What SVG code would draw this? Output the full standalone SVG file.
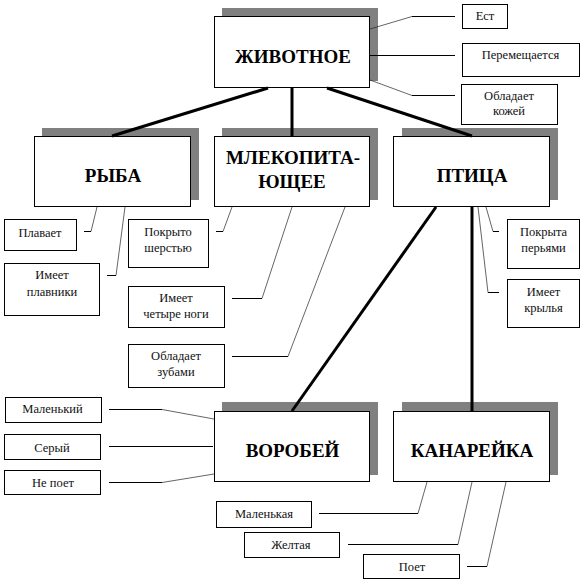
<svg xmlns="http://www.w3.org/2000/svg" width="585" height="585" viewBox="0 0 585 585">
<style>
.sh{fill:#808080;stroke:none}
.bx{fill:#fff;stroke:#000;stroke-width:1}
.t{font-family:"Liberation Serif","DejaVu Serif",serif;font-weight:bold;font-size:19px;fill:#000;text-anchor:middle}
.l{font-family:"Liberation Serif","DejaVu Serif",serif;font-size:12.5px;fill:#111;text-anchor:middle}
.thick{fill:none;stroke:#000;stroke-width:3}
.thin{fill:none;stroke:#000;stroke-width:1}
.dl{fill:none;stroke:#222;stroke-width:0.7}
</style>
<rect width="585" height="585" fill="#fff"/>
<g id="animal"><rect class="sh" x="222" y="8" width="156" height="73"/><rect class="bx" x="214.5" y="16.5" width="155" height="71"/><text class="t" x="293" y="63">ЖИВОТНОЕ</text></g>
<g id="fish"><rect class="sh" x="42" y="128" width="157" height="72"/><rect class="bx" x="34.5" y="136.5" width="156" height="70"/><text class="t" x="113" y="182">РЫБА</text></g>
<g id="mammal"><rect class="sh" x="222" y="128" width="156" height="72"/><rect class="bx" x="214.5" y="136.5" width="155" height="70"/><text class="t" x="293" y="164">МЛЕКОПИТА-</text><text class="t" x="292" y="188">ЮЩЕЕ</text></g>
<g id="bird"><rect class="sh" x="402" y="128" width="156" height="72"/><rect class="bx" x="393.5" y="136.5" width="156" height="70"/><text class="t" x="472" y="182">ПТИЦА</text></g>
<g id="sparrow"><rect class="sh" x="222" y="402" width="156" height="73"/><rect class="bx" x="214.5" y="411.5" width="155" height="70"/><text class="t" x="292.5" y="457">ВОРОБЕЙ</text></g>
<g id="canary"><rect class="sh" x="402" y="402" width="156" height="73"/><rect class="bx" x="393.5" y="411.5" width="156" height="70"/><text class="t" x="472" y="457">КАНАРЕЙКА</text></g>
<g id="eats"><rect class="bx" x="462.5" y="4.5" width="45" height="24"/><text class="l" x="485" y="20">Ест</text></g>
<g id="moves"><rect class="bx" x="462.5" y="43.5" width="117" height="33"/><text class="l" x="520.5" y="59">Перемещается</text></g>
<g id="skin"><rect class="bx" x="461.5" y="84.5" width="96" height="40"/><text class="l" x="509" y="100">Обладает</text><text class="l" x="509" y="115">кожей</text></g>
<g id="swims"><rect class="bx" x="4.5" y="219.5" width="72" height="31"/><text class="l" x="40" y="237">Плавает</text></g>
<g id="fins"><rect class="bx" x="4.5" y="263.5" width="95" height="52"/><text class="l" x="52" y="279">Имеет</text><text class="l" x="52" y="296">плавники</text></g>
<g id="fur"><rect class="bx" x="128.5" y="219.5" width="80" height="48"/><text class="l" x="168" y="236">Покрыто</text><text class="l" x="168" y="252">шерстью</text></g>
<g id="legs"><rect class="bx" x="128.5" y="286.5" width="96" height="41"/><text class="l" x="176" y="302">Имеет</text><text class="l" x="176" y="318">четыре ноги</text></g>
<g id="teeth"><rect class="bx" x="128.5" y="344.5" width="96" height="43"/><text class="l" x="176" y="360">Обладает</text><text class="l" x="176" y="376">зубами</text></g>
<g id="feathers"><rect class="bx" x="507.5" y="219.5" width="72" height="49"/><text class="l" x="543.5" y="236">Покрыта</text><text class="l" x="543.5" y="252">перьями</text></g>
<g id="wings"><rect class="bx" x="507.5" y="279.5" width="72" height="48"/><text class="l" x="543.5" y="296">Имеет</text><text class="l" x="543.5" y="312">крылья</text></g>
<g id="small-m"><rect class="bx" x="5.5" y="397.5" width="96" height="25"/><text class="l" x="52.5" y="413">Маленький</text></g>
<g id="grey"><rect class="bx" x="4.5" y="434.5" width="96" height="25"/><text class="l" x="52" y="452">Серый</text></g>
<g id="nosing"><rect class="bx" x="4.5" y="470.5" width="96" height="24"/><text class="l" x="53" y="487">Не поет</text></g>
<g id="small-f"><rect class="bx" x="216.5" y="501.5" width="95" height="26"/><text class="l" x="264" y="518">Маленькая</text></g>
<g id="yellow"><rect class="bx" x="244.5" y="532.5" width="95" height="25"/><text class="l" x="291" y="549">Желтая</text></g>
<g id="sings"><rect class="bx" x="363.5" y="554.5" width="96" height="24"/><text class="l" x="412" y="571">Поет</text></g>
<g id="connectors">
<line class="thick" x1="268" y1="88" x2="112" y2="136"/>
<line class="thick" x1="292" y1="88" x2="292" y2="136"/>
<line class="thick" x1="327" y1="88" x2="472" y2="136"/>
<line class="thick" x1="436" y1="207" x2="292" y2="411"/>
<line class="thick" x1="472" y1="207" x2="472" y2="411"/>
<polyline class="dl" points="370,29 412,16.5"/><line class="thin" x1="412" y1="16.5" x2="455" y2="16.5"/>
<line class="thin" x1="370" y1="55.5" x2="455" y2="55.5"/>
<polyline class="dl" points="370,80 412,95.5"/><line class="thin" x1="412" y1="95.5" x2="455" y2="95.5"/>
<polyline class="dl" points="97,207 91,231.5"/><line class="thin" x1="84" y1="231.5" x2="91" y2="231.5"/>
<polyline class="dl" points="125,207 116,275.5"/><line class="thin" x1="107" y1="275.5" x2="116" y2="275.5"/>
<polyline class="dl" points="232,207 223,231.5"/><line class="thin" x1="216" y1="231.5" x2="223" y2="231.5"/>
<polyline class="dl" points="292,207 262,298.5"/><line class="thin" x1="232" y1="298.5" x2="262" y2="298.5"/>
<polyline class="dl" points="345,207 288,356.5"/><line class="thin" x1="232" y1="356.5" x2="288" y2="356.5"/>
<polyline class="dl" points="486,207 493,231.5"/><line class="thin" x1="493" y1="231.5" x2="499" y2="231.5"/>
<polyline class="dl" points="478,207 488,292.5"/><line class="thin" x1="488" y1="292.5" x2="499" y2="292.5"/>
<line class="thin" x1="109" y1="409.5" x2="162" y2="409.5"/><polyline class="dl" points="162,409.5 214,419"/>
<line class="thin" x1="109" y1="446.5" x2="213" y2="446.5"/>
<line class="thin" x1="109" y1="482.5" x2="162" y2="482.5"/><polyline class="dl" points="162,482.5 214,474"/>
<line class="thin" x1="319" y1="513.5" x2="418" y2="513.5"/><polyline class="dl" points="418,513.5 427,482"/>
<line class="thin" x1="348" y1="544.5" x2="458" y2="544.5"/><polyline class="dl" points="458,544.5 472,482"/>
<line class="thin" x1="467" y1="566.5" x2="487" y2="566.5"/><polyline class="dl" points="487,566.5 506,482"/>
</g>
</svg>
